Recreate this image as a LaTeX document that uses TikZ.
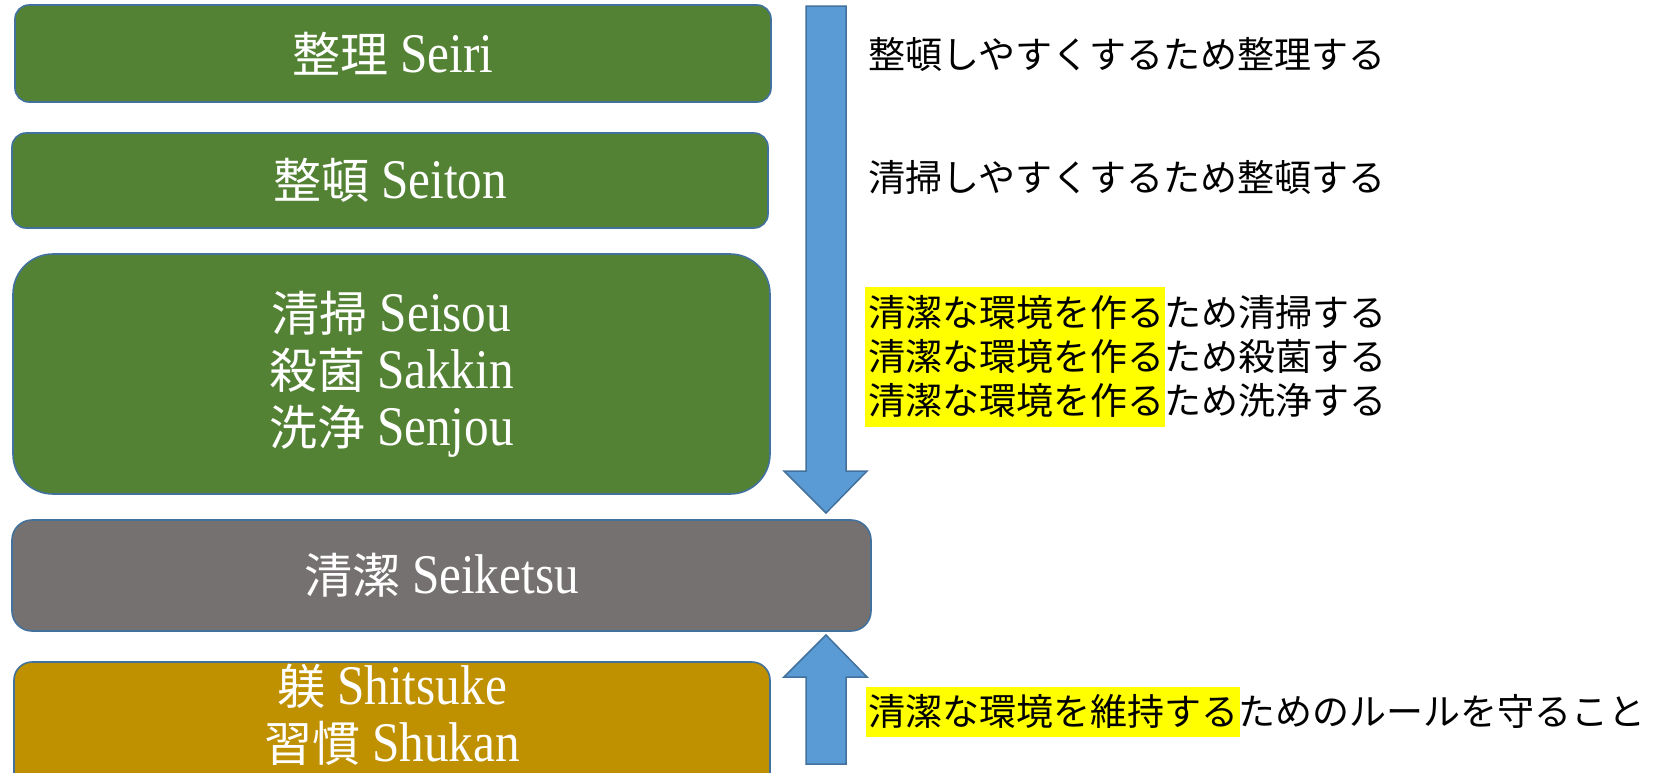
\documentclass[tikz,border=0pt]{standalone}
\usepackage{graphicx}
\usepackage{fontspec}
\setmainfont{Liberation Serif}
\newfontfamily\cjk{Noto Sans CJK JP}
\newcommand\cjkt[1]{{\cjk #1}}
\newcommand\latt[1]{\scalebox{0.88}[1]{\fontsize{56}{57}\selectfont #1}}
\definecolor{bordc}{HTML}{41719C}
\definecolor{arrc}{HTML}{5B9BD5}
\definecolor{greenc}{HTML}{548235}
\definecolor{grayc}{HTML}{767171}
\definecolor{goldc}{HTML}{BF9000}
\definecolor{hly}{HTML}{FFFF00}
\begin{document}
\begin{tikzpicture}[x=1pt,y=-1pt,
  box/.style={draw=bordc, line width=1.6pt, rounded corners=14pt, text=white,
    font=\fontsize{48}{57}\selectfont, align=center, inner sep=0pt},
  txt/.style={font=\cjk\fontsize{37}{44}\selectfont, inner sep=0pt, text=black, anchor=base west},
  hl/.style={fill=hly, draw=none, inner sep=0pt, anchor=north west},
  arr/.style={fill=arrc, draw=bordc, line width=1.5pt, line join=miter}]
\useasboundingbox (0,0) rectangle (1673,772);
\clip (0,0) rectangle (1673,772);
% boxes
\node[box, fill=greenc, minimum width=756pt, minimum height=97pt] (b1) at (393,53.5) {\cjkt{整理} \latt{Seiri}};
\node[box, fill=greenc, minimum width=756pt, minimum height=95pt] (b2) at (390,180.5) {\cjkt{整頓} \latt{Seiton}};
\node[box, fill=greenc, rounded corners=40pt, minimum width=757pt, minimum height=240pt] (b3) at (391.5,374)
  {\cjkt{清掃} \latt{Seisou}\\\cjkt{殺菌} \latt{Sakkin}\\\cjkt{洗浄} \latt{Senjou}};
\node[box, fill=grayc, rounded corners=20pt, minimum width=859pt, minimum height=111pt] (b4) at (441.5,575.5) {\cjkt{清潔} \latt{Seiketsu}};
\node[box, fill=goldc, rounded corners=18pt, minimum width=756pt, minimum height=130pt] (b5) at (392,727) {};
\node[box, draw=none, fill=none] (b5t) at (392,715) {\cjkt{躾} \latt{Shitsuke}\\\cjkt{習慣} \latt{Shukan}};
% arrows
\draw[arr] (806,6) -- (846,6) -- (846,471) -- (867,471) -- (826,513) -- (784,471) -- (806,471) -- cycle;
\draw[arr] (826,635) -- (867,677) -- (846,677) -- (846,764) -- (806,764) -- (806,677) -- (784,677) -- cycle;
% highlights
\node[hl, minimum width=300pt, minimum height=140pt] (h1) at (865,287) {};
\node[hl, minimum width=374pt, minimum height=50pt] (h2) at (866,687) {};
% texts
\node[txt] (t1) at (868,68) {整頓しやすくするため整理する};
\node[txt] (t2) at (868,191) {清掃しやすくするため整頓する};
\node[txt] (t3) at (868,326) {清潔な環境を作るため清掃する};
\node[txt] (t4) at (868,370) {清潔な環境を作るため殺菌する};
\node[txt] (t5) at (868,414) {清潔な環境を作るため洗浄する};
\node[txt] (t6) at (868,725) {清潔な環境を維持するためのルールを守ること};
\end{tikzpicture}
\end{document}
